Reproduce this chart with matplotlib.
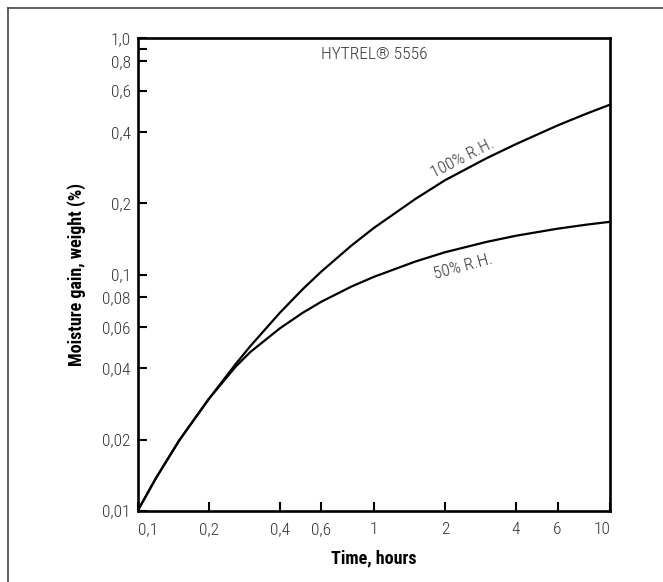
import matplotlib
matplotlib.use("Agg")
import matplotlib.pyplot as plt
from matplotlib import font_manager
from matplotlib.lines import Line2D

# pick a narrow face if one is installed
narrow = None
for f in font_manager.fontManager.ttflist:
    st = str(f.stretch).lower()
    if "narrow" in f.name.lower() or "condensed" in f.name.lower() or "condensed" in st:
        if narrow is None or f.name in ("Liberation Sans Narrow", "Roboto Condensed"):
            narrow = f
if narrow is not None:
    plt.rcParams["font.family"] = [narrow.name, "DejaVu Sans"]
    plt.rcParams["font.stretch"] = narrow.stretch
else:
    plt.rcParams["font.family"] = ["DejaVu Sans"]

# moisture gain (%) against time (hours), HYTREL 5556
hours = [0.1, 0.12, 0.15, 0.2, 0.26, 0.3, 0.4, 0.5, 0.6, 0.8, 1.0, 1.5, 2, 3, 4, 6, 8, 10]
rh100 = [0.0100, 0.01384, 0.01986, 0.02972, 0.04178, 0.04977, 0.06887, 0.0867, 0.1030,
         0.1321, 0.1574, 0.2089, 0.2506, 0.3105, 0.3565, 0.4276, 0.4808, 0.5236]
rh50 = [0.0100, 0.01384, 0.01986, 0.02972, 0.04074, 0.04699, 0.05916, 0.06887, 0.07674,
        0.08872, 0.09772, 0.1135, 0.1242, 0.1374, 0.1459, 0.1563, 0.1627, 0.1671]

xticks = [0.1, 0.2, 0.4, 0.6, 1, 2, 4, 6, 10]
xlabels = ["0,1", "0,2", "0,4", "0,6", "1", "2", "4", "6", "10"]
yticks = [0.01, 0.02, 0.04, 0.06, 0.08, 0.1, 0.2, 0.4, 0.6, 0.8, 0.9, 1.0]
ylabels = ["0,01", "0,02", "0,04", "0,06", "0,08", "0,1", "0,2", "0,4", "0,6", "0,8", "", "1,0"]

fig = plt.figure(figsize=(6.63, 5.82), dpi=100)
ax = fig.add_axes([0.2077, 0.1225, 0.7123, 0.8117])

ax.plot(hours, rh100, color="black", lw=1.6, solid_capstyle="round", solid_joinstyle="round")
ax.plot(hours, rh50, color="black", lw=1.6, solid_capstyle="round", solid_joinstyle="round")

ax.set_xscale("log")
ax.set_yscale("log")
ax.set_xlim(0.1, 10)
ax.set_ylim(0.01, 1.0)
ax.set_xticks(xticks)
ax.set_xticklabels(xlabels)
ax.set_yticks(yticks)
ax.set_yticklabels(ylabels)
ax.xaxis.set_minor_locator(matplotlib.ticker.NullLocator())
ax.yaxis.set_minor_locator(matplotlib.ticker.NullLocator())

ax.tick_params(axis="both", direction="in", length=6.5, width=1.5,
               labelsize=12.5, labelcolor="#333333", color="black")
ax.tick_params(axis="x", pad=8)
ax.tick_params(axis="y", pad=5)
for lab in ax.get_xticklabels() + ax.get_yticklabels():
    lab.set_fontweight("light")
xt = ax.get_xticklabels()
xt[0].set_ha("left")
xt[-1].set_ha("right")

for s in ax.spines.values():
    s.set_linewidth(1.9)

ax.set_xlabel("Time, hours", fontsize=13, fontweight="bold")
ax.set_ylabel("Moisture gain, weight (%)", fontsize=13, fontweight="bold")
ax.xaxis.label.set_va("center")
ax.yaxis.label.set_va("center")
ax.xaxis.set_label_coords(0.5, -0.100)
ax.yaxis.set_label_coords(-0.1285, 0.5)

ax.text(0.5, 0.965, "HYTREL® 5556", transform=ax.transAxes, ha="center", va="center",
        fontsize=12.5, fontweight="light", color="#333333")
ax.text(2.38, 0.311, "100% R.H.", rotation=27, ha="center", va="center",
        fontsize=12.5, fontweight="light", color="#333333", rotation_mode="anchor")
ax.text(2.39, 0.1076, "50% R.H.", rotation=15, ha="center", va="center",
        fontsize=12.5, fontweight="light", color="#333333", rotation_mode="anchor")

# thin frame lines along the top and left of the page
fig.add_artist(Line2D([8 / 663, 8 / 663], [0, 1 - 8 / 582], transform=fig.transFigure,
                      color="#444444", lw=1.2))
fig.add_artist(Line2D([8 / 663, 1], [1 - 8 / 582, 1 - 8 / 582], transform=fig.transFigure,
                      color="#444444", lw=1.2))

fig.savefig("out.png", dpi=100)
